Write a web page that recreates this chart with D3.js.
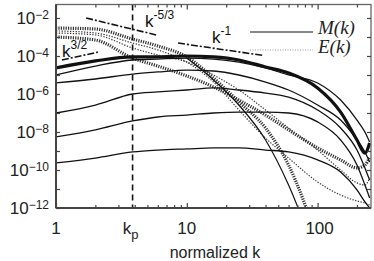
<!DOCTYPE html>
<html>
<head>
<meta charset="utf-8">
<script src="https://cdn.jsdelivr.net/npm/d3@7"></script>
<style>
    body { margin: 0; background: #fff; }
    svg { display: block; font-family: "Liberation Sans", Arial, sans-serif; }
</style>
</head>
<body>
<svg id="chart" width="374" height="261"></svg>
<script>
// wavenumber grid shared by every spectrum (normalized k)
var kGrid = [1, 2, 3.85, 6, 10, 16, 25, 40, 60, 100, 150, 200, 230, 250];
var kPeak = 3.85;

// log10 of the spectra
// M(k), solid lines (thick one = last time)
var mFinal = [-4.63, -4.26, -4.05, -4.05, -4.0, -4.05, -4.21, -4.58, -4.89, -5.68, -6.95, -8.42, -9.11, -8.58];
var mA = [-5.0, -4.53, -4.21, -4.16, -4.11, -4.16, -4.32, -4.63, -5.0, -5.42, -6.32, -7.37, -8.0, -8.53];
var mB = [-5.42, -5.21, -4.95, -4.84, -4.74, -4.79, -5.0, -5.37, -5.79, -6.58, -7.37, -8.42, -9.05, -9.58];
var mC = [-7.0, -6.58, -6.0, -5.89, -5.79, -5.68, -5.79, -5.95, -6.16, -6.84, -7.79, -8.95, -9.89, -10.53];
var mD = [-8.26, -7.89, -7.42, -7.21, -7.11, -7.0, -6.95, -6.95, -7.0, -7.47, -8.42, -9.74, -10.79, -11.47];
var mE = [-9.63, -9.37, -9.05, -8.95, -8.89, -8.84, -8.84, -8.95, -9.05, -9.47, -10.11, -11.05, -11.68, -12.0];
var mSteep = [null, null, null, null, -4.11, -5.26, -6.58, -8.42, -10.79, -14.74, null, null, null, null];

// E(k), dotted lines
var eA = [-2.53, -2.58, -3.11, -3.47, -4.05, -5.16, -6.42, -7.79, -9.74, -13.68, null, null, null, null];
var eB = [-2.68, -2.79, -3.32, -3.68, -4.32, -5.37, -6.84, -8.32, -9.37, -10.63, -11.32, -11.63, -11.74, -11.84];
var eC = [-3.0, -3.16, -4.11, -4.53, -5.05, -5.63, -6.32, -7.11, -7.89, -8.84, -9.47, -9.89, -9.74, -9.32];
var eD = [-2.79, -2.89, -3.58, -3.95, -4.32, -5.0, -5.79, -6.84, -7.79, -8.95, -10.0, -10.68, -10.79, -10.42];

// power-law guide lines: [kStart, kEnd, log10 value at kStart, slope]
var guide32 = [1.11, 2.09, -4.21, 1.5];
var guide53 = [1.70, 6.0, -2.0, -5 / 3];
var guide1 = [8.57, 38.2, -3.32, -1];

var yExps = [-12, -11, -10, -9, -8, -7, -6, -5, -4, -3, -2];
var yLabelExps = [-12, -10, -8, -6, -4, -2];
var xMajor = [1, 10, 100];
var xMinor = [2, 3, 4, 5, 6, 7, 8, 9, 20, 30, 40, 50, 60, 70, 80, 90, 200];

var pLeft = 56, pRight = 371, pTop = 4.5, pBottom = 208;

var svg = d3.select("#chart");

var x = d3.scaleLog().domain([1, 256]).range([pLeft, pRight]);
var y = d3.scaleLog().domain([1e-12, Math.pow(10, -1.29)]).range([pBottom, pTop]);

svg.append("defs").append("clipPath").attr("id", "plotclip")
    .append("rect")
    .attr("x", pLeft).attr("y", pTop)
    .attr("width", pRight - pLeft).attr("height", pBottom - pTop);

var plot = svg.append("g").attr("clip-path", "url(#plotclip)");

function series(vals) {
    return kGrid.map(function (k, i) { return { k: k, v: vals[i] }; });
}

var line = d3.line()
    .defined(function (d) { return d.v !== null; })
    .x(function (d) { return x(d.k); })
    .y(function (d) { return y(Math.pow(10, d.v)); })
    .curve(d3.curveMonotoneX);

function drawCurve(vals, width, dash, colour) {
    plot.append("path")
        .datum(series(vals))
        .attr("d", line)
        .attr("fill", "none")
        .attr("stroke", colour || "#111")
        .attr("stroke-width", width)
        .attr("stroke-dasharray", dash || null)
        .attr("stroke-linejoin", "round");
}

// dotted E(k)
drawCurve(eA, 3.2, "1.2,1.2", "#333");
drawCurve(eB, 1.2, "1.3,1.5", "#333");
drawCurve(eC, 3.2, "1.2,1.2", "#333");
drawCurve(eD, 1.2, "1.3,1.5", "#333");

// solid M(k)
drawCurve(mE, 1.3);
drawCurve(mD, 1.3);
drawCurve(mC, 1.3);
drawCurve(mB, 1.3);
drawCurve(mA, 1.3);
drawCurve(mSteep, 1.2);
drawCurve(mFinal, 3.2);

// kp marker
plot.append("line")
    .attr("x1", x(kPeak)).attr("x2", x(kPeak))
    .attr("y1", pTop).attr("y2", pBottom)
    .attr("stroke", "#111")
    .attr("stroke-width", 1.6)
    .attr("stroke-dasharray", "6,4");

// power-law guides
function drawGuide(g) {
    var pts = [g[0], g[1]].map(function (k) {
        return { k: k, v: g[2] + g[3] * Math.log10(k / g[0]) };
    });
    svg.append("path")
        .datum(pts)
        .attr("d", d3.line()
            .x(function (d) { return x(d.k); })
            .y(function (d) { return y(Math.pow(10, d.v)); }))
        .attr("stroke", "#111")
        .attr("stroke-width", 1.6)
        .attr("stroke-dasharray", "7,2,2,2")
        .attr("fill", "none");
}
drawGuide(guide32);
drawGuide(guide53);
drawGuide(guide1);

function powerLabel(xp, yp, base, sup) {
    var t = svg.append("text")
        .attr("x", xp).attr("y", yp)
        .attr("font-size", 17)
        .attr("fill", "#111");
    t.append("tspan").text(base);
    t.append("tspan").attr("dy", -8).attr("font-size", 12).text(sup);
}
powerLabel(62, 57, "k", "3/2");
powerLabel(145, 27, "k", "-5/3");
powerLabel(212, 43, "k", "-1");

// frame
svg.append("rect")
    .attr("x", pLeft).attr("y", pTop)
    .attr("width", pRight - pLeft).attr("height", pBottom - pTop)
    .attr("fill", "none")
    .attr("stroke", "#666")
    .attr("stroke-width", 1.3);

// axes, ticks pointing inward
var tickStyle = function (g) {
    g.select(".domain").remove();
    g.selectAll("line").attr("stroke", "#444").attr("stroke-width", 1.2);
};

var yDecades = yExps.map(function (e) { return Math.pow(10, e); });

svg.append("g")
    .attr("transform", "translate(" + pLeft + ",0)")
    .call(d3.axisLeft(y).tickValues(yDecades).tickSize(-4).tickFormat(""))
    .call(tickStyle);
svg.append("g")
    .attr("transform", "translate(" + pRight + ",0)")
    .call(d3.axisRight(y).tickValues(yDecades).tickSize(-4).tickFormat(""))
    .call(tickStyle);

[[d3.axisBottom, pBottom], [d3.axisTop, pTop]].forEach(function (a) {
    svg.append("g")
        .attr("transform", "translate(0," + a[1] + ")")
        .call(a[0](x).tickValues(xMajor).tickSize(-5).tickFormat(""))
        .call(tickStyle);
    svg.append("g")
        .attr("transform", "translate(0," + a[1] + ")")
        .call(a[0](x).tickValues(xMinor).tickSize(-3).tickFormat(""))
        .call(tickStyle);
});

// heavier left and bottom axis lines
svg.append("line")
    .attr("x1", pLeft).attr("x2", pLeft).attr("y1", pTop).attr("y2", pBottom)
    .attr("stroke", "#444").attr("stroke-width", 2);
svg.append("line")
    .attr("x1", pLeft).attr("x2", pRight).attr("y1", pBottom).attr("y2", pBottom)
    .attr("stroke", "#444").attr("stroke-width", 2);

// y tick labels 10^n
yLabelExps.forEach(function (e) {
    var yp = y(Math.pow(10, e));
    var t = svg.append("text")
        .attr("x", 49).attr("y", yp + 6)
        .attr("text-anchor", "end")
        .attr("font-size", 17)
        .attr("fill", "#222");
    t.append("tspan").text("10");
    t.append("tspan").attr("dy", -5).attr("font-size", 12).text("\u2212" + Math.abs(e));
});

// x tick labels
xMajor.forEach(function (k) {
    svg.append("text")
        .attr("x", x(k) + (k === 100 ? 2 : 0)).attr("y", 234)
        .attr("text-anchor", "middle")
        .attr("font-size", 17)
        .attr("fill", "#222")
        .text(k);
});
var kp = svg.append("text")
    .attr("x", x(kPeak) - 2).attr("y", 234)
    .attr("text-anchor", "middle")
    .attr("font-size", 17)
    .attr("fill", "#222");
kp.append("tspan").text("k");
kp.append("tspan").attr("dy", 5).attr("font-size", 13).text("p");

svg.append("text")
    .attr("x", 215).attr("y", 258)
    .attr("text-anchor", "middle")
    .attr("font-size", 16)
    .attr("fill", "#222")
    .text("normalized k");

// legend
svg.append("line")
    .attr("x1", 250).attr("x2", 313).attr("y1", 32).attr("y2", 32)
    .attr("stroke", "#111").attr("stroke-width", 1.2);
svg.append("line")
    .attr("x1", 250).attr("x2", 313).attr("y1", 50).attr("y2", 50)
    .attr("stroke", "#999").attr("stroke-width", 1)
    .attr("stroke-dasharray", "1,1.5");
[["M(k)", 34], ["E(k)", 53]].forEach(function (d) {
    svg.append("text")
        .attr("x", 318).attr("y", d[1])
        .attr("font-family", "'Liberation Serif', 'Times New Roman', serif")
        .attr("font-style", "italic")
        .attr("font-size", 19)
        .attr("fill", "#222")
        .text(d[0]);
});
</script>
</body>
</html>
